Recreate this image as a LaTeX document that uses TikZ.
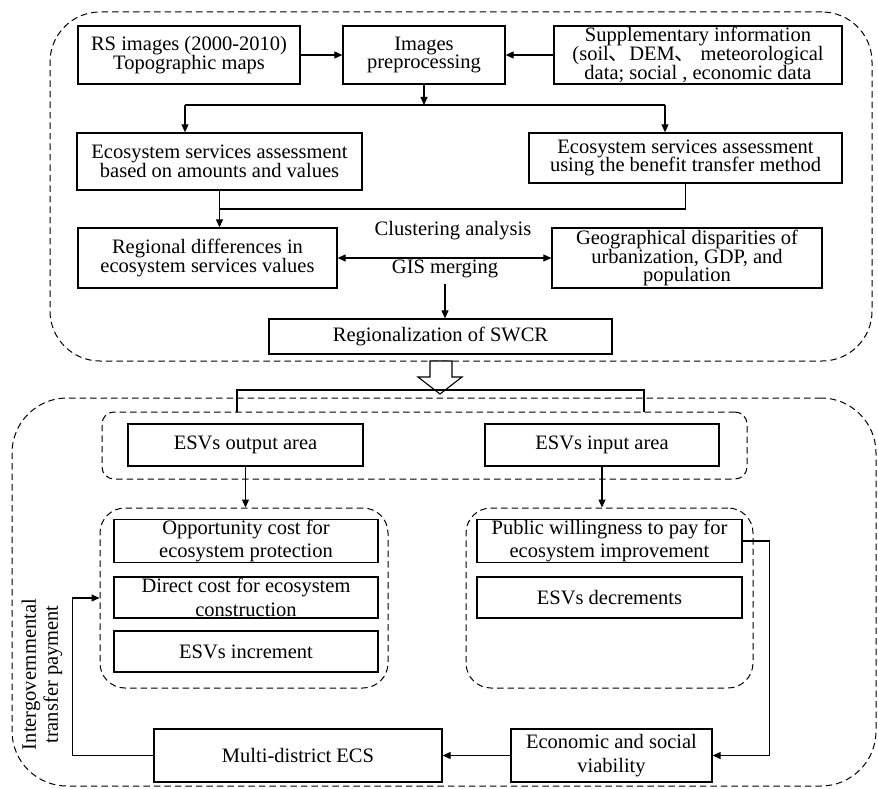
\documentclass[tikz,border=0pt]{standalone}
\usepackage{fontspec}
\setmainfont{Liberation Serif}
\newfontfamily\cjk{Noto Sans CJK SC}
\usetikzlibrary{arrows.meta,positioning,calc}
\lineskiplimit=-100pt

\begin{document}
\begin{tikzpicture}[
    x=1pt, y=-1pt,
    font=\fontsize{20.5}{18.5}\selectfont,
    box/.style={rectangle, draw=black, line width=1.3pt, align=center, inner sep=0pt},
    boxb/.style={box, font=\fontsize{20.5}{23.5}\selectfont},
    grp/.style={rectangle, draw=black, line width=1pt, dash pattern=on 6.5pt off 4pt, rounded corners=#1, inner sep=0pt},
    grp/.default=25pt,
    arrow/.style={-{Triangle[length=8pt,width=7pt]}, line width=1.1pt},
    dbl/.style={{Triangle[length=8pt,width=7pt]}-{Triangle[length=8pt,width=7pt]}, line width=1.1pt},
    line/.style={line width=1.1pt},
    lbl/.style={inner sep=0pt, align=center}
]
    \useasboundingbox (0,0) rectangle (878,789);

    % dashed groups
    \node [grp=50pt, minimum width=822pt, minimum height=349pt] (topgrp) at (461,186.5) {};
    \node [grp=55pt, minimum width=864pt, minimum height=388pt] (botgrp) at (444,592) {};
    \node [grp=12pt, minimum width=645pt, minimum height=67pt] (esvgrp) at (424.5,445.5) {};
    \node [grp=25pt, minimum width=288pt, minimum height=180pt] (lgrp) at (244,598) {};
    \node [grp=25pt, minimum width=287pt, minimum height=180pt] (rgrp) at (609.5,598) {};

    % upper part
    \node [box, minimum width=222pt, minimum height=58pt] (rs) at (189,55) {RS images (2000-2010)\\Topographic maps};
    \node [box, minimum width=162pt, minimum height=58pt] (pre) at (424,55) {Images\\preprocessing};
    \node [box, minimum width=288pt, minimum height=58pt, font=\fontsize{20.5}{19.2}\selectfont] (sup) at (698,55) {Supplementary information\\(soil\smash{\cjk 、}DEM\smash{\cjk 、} meteorological\\data; social , economic data};
    \node [box, minimum width=285pt, minimum height=57pt] (esa) at (219.5,161.5) {Ecosystem services assessment\\based on amounts and values};
    \node [box, minimum width=313pt, minimum height=50pt] (esb) at (685.5,158) {Ecosystem services assessment\\using the benefit transfer method};
    \node [box, minimum width=259pt, minimum height=60pt] (reg) at (207.5,258) {Regional differences in\\ecosystem services values};
    \node [box, minimum width=270pt, minimum height=60pt] (geo) at (687,258) {Geographical disparities of\\urbanization, GDP, and\\population};
    \node [box, minimum width=343pt, minimum height=35pt] (swcr) at (440.5,336.5) {Regionalization of SWCR};
    \node [lbl] (clu) at (453,231) {Clustering analysis};
    \node [lbl, inner sep=6pt] (gis) at (445,269) {GIS merging};

    \draw [arrow] (rs) -- (pre);
    \draw [arrow] (sup) -- (pre);
    \coordinate (sl) at (185,105);
    \coordinate (sr) at (665,105);
    \draw [arrow] (pre) -- (pre.south |- sl);
    \draw [line] (sl) -- (sr);
    \draw [arrow] (sl) -- (sl |- esa.north);
    \draw [arrow] (sr) -- (sr |- esb.north);
    \draw [arrow] (esa) -- (esa.south |- reg.north);
    \coordinate (mj) at (219.5,209);
    \draw [line] (esb) |- (mj);
    \draw [dbl] (reg) -- (geo);
    \draw [arrow] (gis) -- (gis |- swcr.north);

    % hollow arrow and split
    \draw [line, fill=white] (430,361) -- (452,361) -- (452,377) -- (462,377) -- (440,394) -- (418,377) -- (430,377) -- cycle;
    \coordinate (bl) at (237,390);
    \coordinate (br) at (644,390);
    \draw [line] (bl |- esvgrp.north) -- (bl) -- (br) -- (br |- esvgrp.north);

    % lower part
    \node [box, minimum width=235pt, minimum height=42pt] (out) at (245.5,445) {ESVs output area};
    \node [box, minimum width=234pt, minimum height=42pt] (inp) at (602,445) {ESVs input area};
    \node [boxb, minimum width=264pt, minimum height=42pt] (opp) at (246,541) {Opportunity cost for\\ecosystem protection};
    \node [boxb, minimum width=264pt, minimum height=41pt] (dir) at (246,597.5) {Direct cost for ecosystem\\construction};
    \node [boxb, minimum width=264pt, minimum height=41pt] (inc) at (246,651.5) {ESVs increment};
    \node [boxb, minimum width=265pt, minimum height=42pt] (pub) at (609.5,541) {Public willingness to pay for\\ecosystem improvement};
    \node [boxb, minimum width=265pt, minimum height=41pt] (dec) at (609.5,597.5) {ESVs decrements};
    \node [boxb, minimum width=201pt, minimum height=53pt] (eco) at (611.5,755.5) {Economic and social\\viability};
    \node [boxb, minimum width=288pt, minimum height=53pt] (ecs) at (298,755.5) {Multi-district ECS};
    \node [lbl, rotate=90, font=\fontsize{20.5}{22}\selectfont] (itp) at (42,674.5) {Intergovernmental\\transfer payment};

    \draw [arrow] (out) -- (out.south |- lgrp.north);
    \draw [arrow] (inp) -- (inp.south |- rgrp.north);
    \draw [arrow] (pub.east) -- ++(27,0) |- (eco.east);
    \draw [arrow] (eco) -- (ecs);
    \draw [arrow] (ecs.west) -- ++(-81,0) |- (lgrp.west);
\end{tikzpicture}
\end{document}
